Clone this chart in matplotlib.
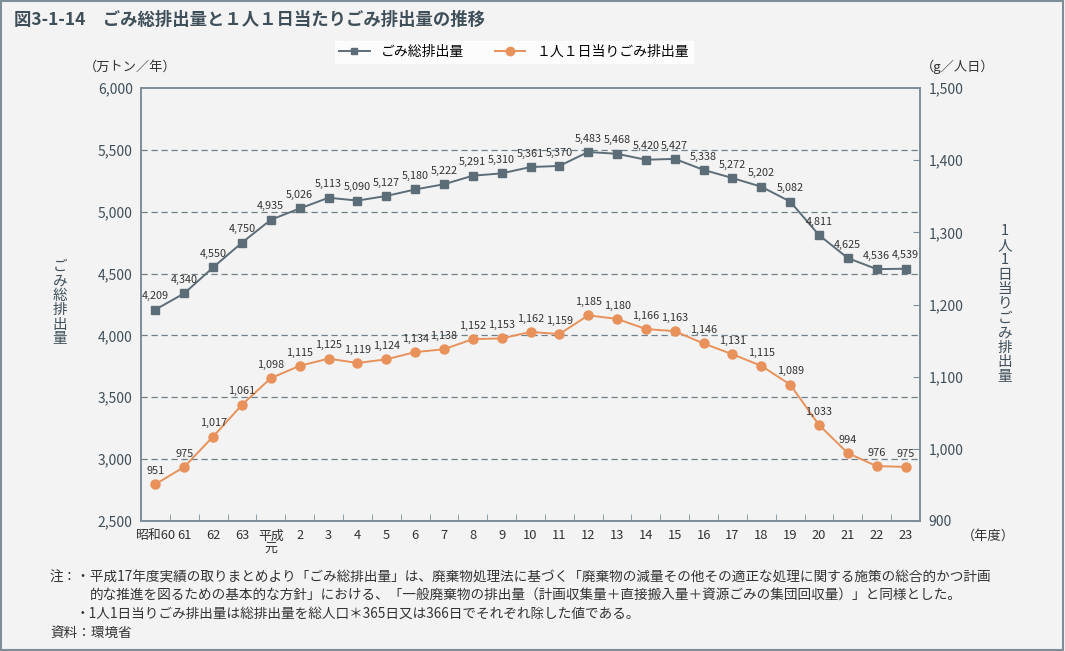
import matplotlib
matplotlib.use("Agg")
import matplotlib.pyplot as plt
from matplotlib.lines import Line2D
from matplotlib.patches import Rectangle
from matplotlib.transforms import ScaledTranslation
import numpy as np

plt.rcParams['font.family'] = ['Noto Sans CJK JP', 'DejaVu Sans']

years = ["昭和60", "61", "62", "63", "平成\n元", "2", "3", "4", "5", "6", "7", "8", "9",
         "10", "11", "12", "13", "14", "15", "16", "17", "18", "19", "20", "21", "22", "23"]
total = [4209, 4340, 4550, 4750, 4935, 5026, 5113, 5090, 5127, 5180, 5222, 5291, 5310,
         5361, 5370, 5483, 5468, 5420, 5427, 5338, 5272, 5202, 5082, 4811, 4625, 4536, 4539]
per_person = [951, 975, 1017, 1061, 1098, 1115, 1125, 1119, 1124, 1134, 1138, 1152, 1153,
              1162, 1159, 1185, 1180, 1166, 1163, 1146, 1131, 1115, 1089, 1033, 994, 976, 975]

W, H = 1065, 651
BG = "#f3f3f3"
SPINE = "#7d8e98"
TXT = "#3f4f59"
GRAY = "#5d6d77"
ORANGE = "#e8915b"


def fx(x):
    return x / W


def fy(y):
    return 1 - y / H


fig = plt.figure(figsize=(W / 100, H / 100), dpi=100, facecolor=BG)
fig.patches.append(Rectangle((0.001, 0.002), 0.997, 0.996, transform=fig.transFigure,
                             fill=False, edgecolor=SPINE, lw=1.5))

ax = fig.add_axes([fx(141), fy(521), fx(920) - fx(141), fy(88) - fy(521)])
ax.set_facecolor(BG)
ax2 = ax.twinx()

x = np.arange(len(years))
ax.set_xlim(-0.5, len(years) - 0.5)
ax.set_ylim(2500, 6000)
ax2.set_ylim(900, 1500)

for v in range(3000, 6000, 500):
    ax.axhline(v, color="#6f7f88", lw=0.9, ls=(0, (5, 3)), zorder=1)

ax.plot(x, total, color=GRAY, lw=1.4, marker="s", ms=5.5, zorder=3)
ax2.plot(x, per_person, color=ORANGE, lw=1.4, marker="o", ms=6.5, zorder=3)

for xi, v in zip(x, total):
    ax.annotate(f"{v:,}", (xi, v), xytext=(0, 6), textcoords="offset points",
                ha="center", va="bottom", fontsize=7.8, color="#333333")
for xi, v in zip(x, per_person):
    ax2.annotate(f"{v:,}", (xi, v), xytext=(0, 6), textcoords="offset points",
                 ha="center", va="bottom", fontsize=7.8, color="#333333")

for a in (ax, ax2):
    for s in a.spines.values():
        s.set_color(SPINE)
        s.set_linewidth(1.2)

ax.set_xticks(x)
ax.set_xticklabels(years, fontsize=9.3, color="#333333", linespacing=1.0)
ax.get_xticklabels()[0].set_transform(
    ax.get_xticklabels()[0].get_transform() + ScaledTranslation(-4 / 100, 0, fig.dpi_scale_trans))
ax.set_xticks(np.arange(len(years) - 1) + 0.5, minor=True)
ax.tick_params(axis="x", which="major", length=0, pad=6)
ax.tick_params(axis="x", which="minor", direction="in", length=5, color=SPINE)

ax.set_yticks(range(2500, 6001, 500))
ax.set_yticklabels([f"{v:,}" for v in range(2500, 6001, 500)])
ax.tick_params(axis="y", length=0, labelsize=10, labelcolor=TXT, pad=6)

ax2.set_yticks(range(900, 1501, 100))
ax2.set_yticklabels([f"{v:,}" for v in range(900, 1501, 100)])
ax2.tick_params(axis="y", direction="in", length=5, color=SPINE, labelsize=10,
                labelcolor=TXT, pad=6)

# titles and axis texts
fig.text(fx(14), fy(20), "図3-1-14　ごみ総排出量と１人１日当たりごみ排出量の推移",
         fontsize=12.5, fontweight="bold", color=TXT, va="center", ha="left")
fig.text(fx(130), fy(67), "（万トン／年）", fontsize=9.5, color="#333333", ha="center", va="center")
fig.text(fx(958), fy(67), "（g／人日）", fontsize=9.5, color="#333333", ha="center", va="center")
fig.text(fx(988), fy(536), "（年度）", fontsize=9.5, color="#333333", ha="center", va="center")
fig.text(fx(60), fy(303), "\n".join("ごみ総排出量"), fontsize=10.5, color=TXT,
         ha="center", va="center", linespacing=1.05)
fig.text(fx(1005), fy(304), "\n".join("1人1日当りごみ排出量"), fontsize=10.5, color=TXT,
         ha="center", va="center", linespacing=1.05)

handles = [Line2D([], [], color=GRAY, lw=1.4, marker="s", ms=5),
           Line2D([], [], color=ORANGE, lw=1.4, marker="o", ms=6)]
leg = fig.legend(handles, ["ごみ総排出量", "１人１日当りごみ排出量"], loc="center",
                 bbox_to_anchor=(fx(514), fy(52)), ncol=2, frameon=True, fontsize=10,
                 handlelength=2.2, columnspacing=2.2, borderpad=0.3, fancybox=False)
leg.get_frame().set_facecolor("white")
leg.get_frame().set_edgecolor("white")

notes = [
    (50, 578, "注：・平成17年度実績の取りまとめより「ごみ総排出量」は、廃棄物処理法に基づく「廃棄物の減量その他その適正な処理に関する施策の総合的かつ計画"),
    (90, 596, "的な推進を図るための基本的な方針」における、「一般廃棄物の排出量（計画収集量＋直接搬入量＋資源ごみの集団回収量）」と同様とした。"),
    (76, 614, "・1人1日当りごみ排出量は総排出量を総人口＊365日又は366日でそれぞれ除した値である。"),
    (50, 633, "資料：環境省"),
]
for nx, ny, t in notes:
    fig.text(fx(nx), fy(ny), t, fontsize=9.8, color="#333333", ha="left", va="center")

fig.savefig("out.png", dpi=100, facecolor=BG)
